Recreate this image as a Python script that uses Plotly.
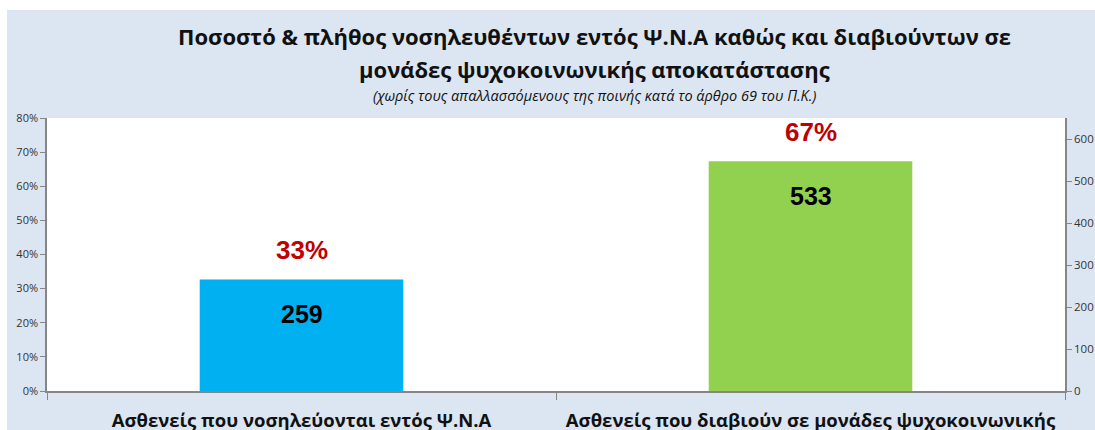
import plotly.graph_objects as go

categories = ["Ασθενείς που νοσηλεύονται εντός Ψ.Ν.Α",
              "Ασθενείς που διαβιούν σε μονάδες ψυχοκοινωνικής<br>αποκατάστασης"]
pct_values = [32.7, 67.3]
pct_labels = ["33%", "67%"]
count_values = [259, 533]
bar_colors = ["#00B0F0", "#92D050"]
left_ticks = [0, 10, 20, 30, 40, 50, 60, 70, 80]
right_ticks = [0, 100, 200, 300, 400, 500, 600]

W, H = 1095, 430
L, R, T, B = 47, 30, 118, 39
pw, ph = W - L - R, H - T - B

def px(x):
    return (x - L) / pw

def py(y):
    return (H - B - y) / ph

BG = "#DCE6F2"
AX = "#868686"
FONT = "Open Sans"

fig = go.Figure()
fig.add_trace(go.Bar(x=categories, y=pct_values, marker=dict(color=bar_colors, line=dict(width=0)),
                     width=0.4, hoverinfo="skip", showlegend=False))
fig.add_trace(go.Scatter(x=categories, y=count_values, yaxis="y2", mode="markers",
                         marker=dict(opacity=0), hoverinfo="skip", showlegend=False))

annotations = []
for c, p, lab, n in zip(categories, pct_values, pct_labels, count_values):
    annotations.append(dict(x=c, y=p, xref="x", yref="y", text=f"<b>{lab}</b>", showarrow=False,
                            yanchor="middle", yshift=29,
                            font=dict(family="Liberation Sans", size=26, color="#C00000")))
    annotations.append(dict(x=c, y=p, xref="x", yref="y", text=f"<b>{n}</b>", showarrow=False,
                            yanchor="middle", yshift=-35,
                            font=dict(family="Liberation Sans", size=25, color="#000000")))

annotations.append(dict(x=px(594), y=py(36), xref="paper", yref="paper", showarrow=False,
                        xanchor="center", yanchor="middle",
                        text="<b>Ποσοστό & πλήθος νοσηλευθέντων εντός Ψ.Ν.Α καθώς και διαβιούντων σε</b>",
                        font=dict(family=FONT, size=22, color="#111111")))
annotations.append(dict(x=px(594), y=py(69), xref="paper", yref="paper", showarrow=False,
                        xanchor="center", yanchor="middle",
                        text="<b>μονάδες ψυχοκοινωνικής αποκατάστασης</b>",
                        font=dict(family=FONT, size=22, color="#111111")))
annotations.append(dict(x=px(595), y=py(95), xref="paper", yref="paper", showarrow=False,
                        xanchor="center", yanchor="middle",
                        text="<i>(χωρίς τους απαλλασσόμενους της ποινής κατά το άρθρο 69 του Π.Κ.)</i>",
                        font=dict(family=FONT, size=14.5, color="#111111")))

shapes = [
    dict(type="rect", xref="paper", yref="paper", x0=px(0), x1=px(W + 20), y0=py(10), y1=py(0),
         fillcolor="white", line=dict(width=0), layer="below"),
    dict(type="rect", xref="paper", yref="paper", x0=px(0), x1=px(7), y0=py(H), y1=py(0),
         fillcolor="white", line=dict(width=0), layer="below"),
]

fig.update_layout(
    width=W, height=H, autosize=False,
    margin=dict(l=L, r=R, t=T, b=B, pad=0, autoexpand=False),
    paper_bgcolor=BG, plot_bgcolor="white",
    annotations=annotations, shapes=shapes,
    xaxis=dict(type="category", tickvals=categories, ticktext=[f"<b>{c}</b>" for c in categories],
               automargin=False,
               showline=True, linecolor=AX, linewidth=1.5, ticks="outside",
               tickson="boundaries", ticklen=7, tickcolor=AX, showgrid=False,
               tickfont=dict(family=FONT, size=18.5, color="#111111"), ticklabelstandoff=12),
    yaxis=dict(range=[0, 80], tickvals=left_ticks, ticktext=[f"{v}%" for v in left_ticks],
               automargin=False,
               showline=True, linecolor=AX, linewidth=1.5, ticks="outside", ticklen=5, tickcolor=AX,
               showgrid=False, zeroline=False, tickfont=dict(family=FONT, size=11, color="#333333")),
    yaxis2=dict(range=[0, 650], tickvals=right_ticks, overlaying="y", side="right",
                automargin=False,
                showline=True, linecolor=AX, linewidth=1.5, ticks="outside", ticklen=5, tickcolor=AX,
                showgrid=False, zeroline=False, tickfont=dict(family=FONT, size=11.5, color="#333333")),
)

post = """
document.documentElement.style.background='#DCE6F2';
document.body.style.margin='0';
document.body.style.background='#DCE6F2';
document.body.style.overflow='hidden';
var gd = document.getElementsByClassName('plotly-graph-div')[0];
gd.style.width='1095px'; gd.style.height='430px';
Plotly.relayout(gd, {width:1095, height:430});
"""

fig.write_html("out.html", config={"responsive": False, "displayModeBar": False}, post_script=post)
